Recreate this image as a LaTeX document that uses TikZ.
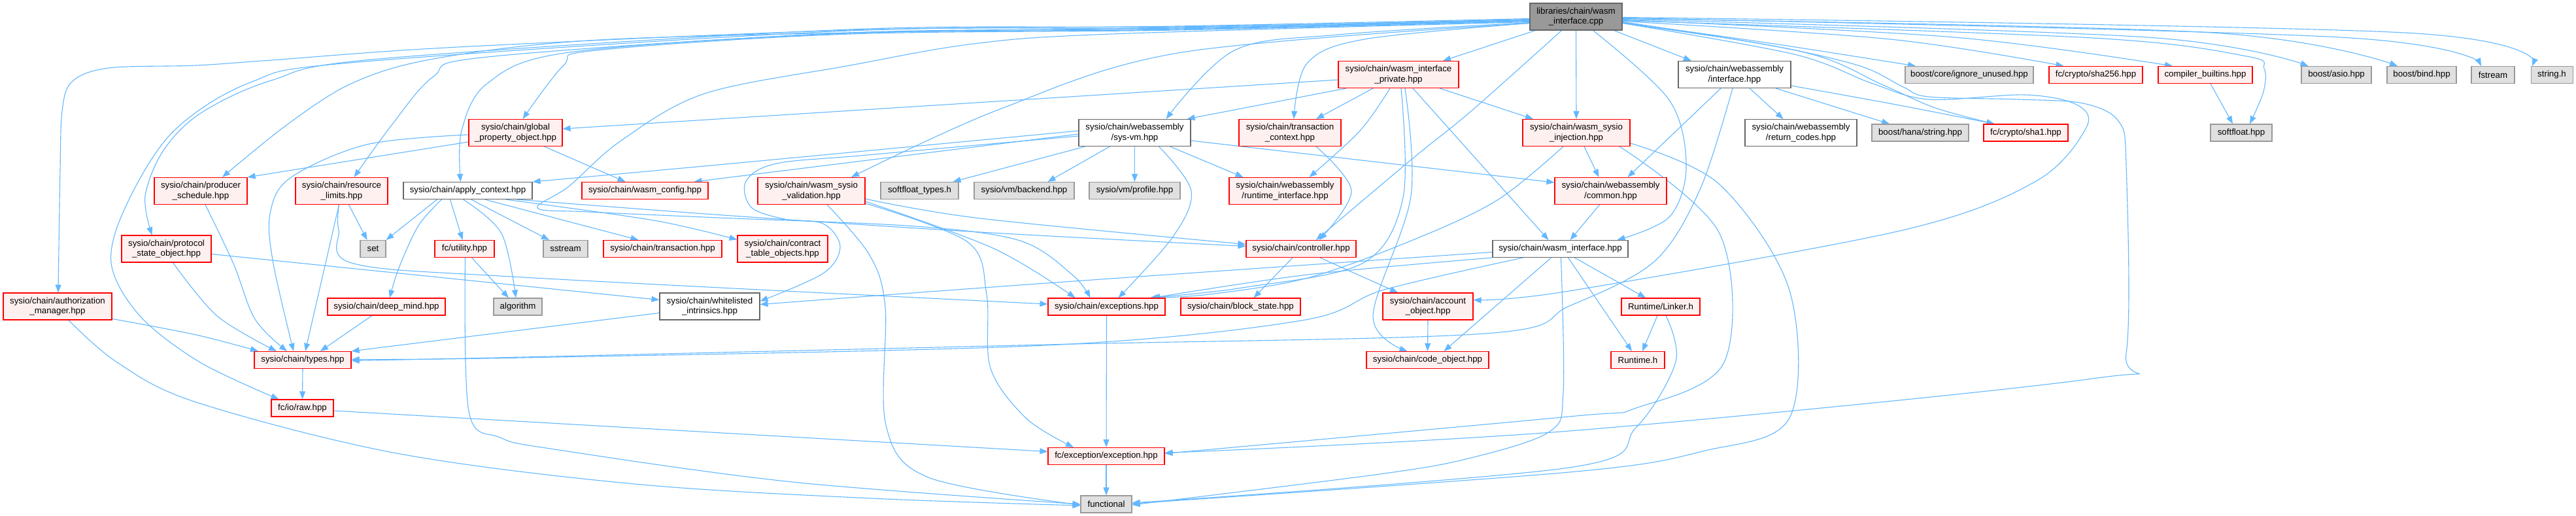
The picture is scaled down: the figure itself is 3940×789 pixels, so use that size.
\documentclass[tikz,border=0pt]{standalone}
\usepackage{fontspec}
\setmainfont{Liberation Sans}
\usetikzlibrary{arrows.meta}
\definecolor{edgecol}{HTML}{63B8FF}
\definecolor{redfill}{HTML}{FFF0F0}
\definecolor{grayfill}{HTML}{E0E0E0}
\definecolor{graybd}{HTML}{999999}
\definecolor{whitebd}{HTML}{666666}
\definecolor{rootfill}{HTML}{999999}
\newcommand\dxfont{\fontsize{13.3pt}{15.2pt}\selectfont}
\newcommand\edgeplot[1]{\draw[edge] plot[smooth,tension=0.55] coordinates {#1};}
\pgfdeclarelayer{bg}
\pgfsetlayers{bg,main}
\tikzset{
  base/.style={rectangle, inner sep=0pt, align=center, font=\dxfont, text=black, line width=1.1pt},
  rbox/.style={base, draw=red, fill=redfill},
  gbox/.style={base, draw=graybd, fill=grayfill},
  wbox/.style={base, draw=whitebd, fill=white},
  rootbox/.style={base, draw=whitebd, fill=rootfill},
  one/.style={minimum height=26pt},
  two/.style={minimum height=41pt},
  edge/.style={draw=edgecol, line width=1.1pt, line join=round, -{Triangle[length=12pt,width=9pt]}},
}
\begin{document}
\begin{tikzpicture}[x=1pt,y=-1pt]
\useasboundingbox (0,0) rectangle (3940,789);
% rank 0
\node[rootbox,two,minimum width=141pt] (root) at (2410.5,25.5) {libraries/chain/wasm\\\_interface.cpp};
% rank 1
\node[rbox,two,minimum width=184pt] (wip) at (2139,114) {sysio/chain/wasm\_interface\\\_private.hpp};
\node[wbox,two,minimum width=172pt] (wai) at (2653,114) {sysio/chain/webassembly\\/interface.hpp};
\node[gbox,one,minimum width=196pt] (ign) at (3012,114.5) {boost/core/ignore\_unused.hpp};
\node[rbox,one,minimum width=143pt] (sha256) at (3205.5,114.5) {fc/crypto/sha256.hpp};
\node[rbox,one,minimum width=144pt] (cb) at (3373,114.5) {compiler\_builtins.hpp};
\node[gbox,one,minimum width=107pt] (asio) at (3573.5,114.5) {boost/asio.hpp};
\node[gbox,one,minimum width=106pt] (bind) at (3704,114.5) {boost/bind.hpp};
\node[gbox,one,minimum width=66pt] (fstream) at (3813,114.5) {fstream};
\node[gbox,one,minimum width=64pt] (stringh) at (3903,114.5) {string.h};
% rank 2
\node[rbox,two,minimum width=143pt] (gpo) at (788.5,203) {sysio/chain/global\\\_property\_object.hpp};
\node[wbox,two,minimum width=171pt] (sysvm) at (1735.5,203) {sysio/chain/webassembly\\/sys-vm.hpp};
\node[rbox,two,minimum width=156pt] (tctx) at (1973,203) {sysio/chain/transaction\\\_context.hpp};
\node[rbox,two,minimum width=164pt] (inj) at (2411,203) {sysio/chain/wasm\_sysio\\\_injection.hpp};
\node[wbox,two,minimum width=171pt] (rc) at (2754.5,203) {sysio/chain/webassembly\\/return\_codes.hpp};
\node[gbox,one,minimum width=148pt] (hana) at (2937,203) {boost/hana/string.hpp};
\node[rbox,one,minimum width=129pt] (sha1) at (3098.5,203) {fc/crypto/sha1.hpp};
\node[gbox,one,minimum width=94pt] (softfloat) at (3428,203) {softfloat.hpp};
% rank 3
\node[rbox,two,minimum width=142pt] (ps) at (307,292) {sysio/chain/producer\\\_schedule.hpp};
\node[rbox,two,minimum width=141pt] (rl) at (522.5,292) {sysio/chain/resource\\\_limits.hpp};
\node[wbox,one,minimum width=197pt] (ac) at (715.5,291.5) {sysio/chain/apply\_context.hpp};
\node[rbox,one,minimum width=193pt] (wcfg) at (986.5,291.5) {sysio/chain/wasm\_config.hpp};
\node[rbox,two,minimum width=164pt] (val) at (1241,292) {sysio/chain/wasm\_sysio\\\_validation.hpp};
\node[gbox,one,minimum width=119pt] (sft) at (1406.5,291.5) {softfloat\_types.h};
\node[gbox,one,minimum width=153pt] (backend) at (1566.5,291.5) {sysio/vm/backend.hpp};
\node[gbox,one,minimum width=139pt] (profile) at (1735.5,291.5) {sysio/vm/profile.hpp};
\node[rbox,two,minimum width=171pt] (rti) at (1965.5,292) {sysio/chain/webassembly\\/runtime\_interface.hpp};
\node[rbox,two,minimum width=171pt] (common) at (2463.5,292) {sysio/chain/webassembly\\/common.hpp};
% rank 4
\node[rbox,two,minimum width=137pt] (pso) at (254.5,380.5) {sysio/chain/protocol\\\_state\_object.hpp};
\node[gbox,one,minimum width=39pt] (set) at (570.5,380.5) {set};
\node[rbox,one,minimum width=91pt] (util) at (710.5,380.5) {fc/utility.hpp};
\node[gbox,one,minimum width=68pt] (sstream) at (865,380.5) {sstream};
\node[rbox,one,minimum width=181pt] (trx) at (1013.5,380.5) {sysio/chain/transaction.hpp};
\node[rbox,two,minimum width=138pt] (cto) at (1197,380.5) {sysio/chain/contract\\\_table\_objects.hpp};
\node[rbox,one,minimum width=168pt] (ctrl) at (1990,380.5) {sysio/chain/controller.hpp};
\node[wbox,one,minimum width=207pt] (wi) at (2386.5,380.5) {sysio/chain/wasm\_interface.hpp};
% rank 5
\node[rbox,two,minimum width=166pt] (am) at (88,468.5) {sysio/chain/authorization\\\_manager.hpp};
\node[rbox,one,minimum width=180pt] (dm) at (591,469) {sysio/chain/deep\_mind.hpp};
\node[gbox,one,minimum width=74pt] (alg) at (792,469) {algorithm};
\node[wbox,two,minimum width=153pt] (wl) at (1085.5,468.5) {sysio/chain/whitelisted\\\_intrinsics.hpp};
\node[rbox,one,minimum width=179pt] (exc) at (1692.5,469) {sysio/chain/exceptions.hpp};
\node[rbox,one,minimum width=183pt] (bs) at (1897.5,469) {sysio/chain/block\_state.hpp};
\node[rbox,two,minimum width=138pt] (ao) at (2184,468.5) {sysio/chain/account\\\_object.hpp};
\node[rbox,one,minimum width=120pt] (linker) at (2540,469) {Runtime/Linker.h};
% rank 6+
\node[rbox,one,minimum width=148pt] (types) at (463,550.5) {sysio/chain/types.hpp};
\node[rbox,one,minimum width=187pt] (co) at (2183.5,550.5) {sysio/chain/code\_object.hpp};
\node[rbox,one,minimum width=82pt] (rt) at (2505,550.5) {Runtime.h};
\node[rbox,one,minimum width=95pt] (raw) at (462.5,624) {fc/io/raw.hpp};
\node[rbox,one,minimum width=178pt] (exh) at (1692,697.5) {fc/exception/exception.hpp};
\node[gbox,one,minimum width=78pt] (func) at (1692,771) {functional};

\begin{pgfonlayer}{bg}
\fill[white] (0,0) rectangle (3940,789);
% root, leftwards
\edgeplot{([yshift=-3pt]root.west) (1800,40) (1300,46) (700,72) (415,92) (300,100) (166,104) (110,125) (95,170) (92,260) (90,380) ([xshift=1pt]am.north)}
\edgeplot{([yshift=-4pt]root.west) (1800,42) (1300,50) (900,62) (663,90) (539,127) (440,190) ([xshift=33pt]ps.north)}
\edgeplot{([yshift=-5pt]root.west) (1800,41) (1300,45) (580,90) (415,123) (307,173) (250,230) (222,300) ([xshift=-22pt]pso.north)}
\edgeplot{([yshift=-5pt]root.west) (1800,43) (1300,47) (547,95) (383,126) (265,201) (194,312) (170,402) (214,483) (306,554) ([xshift=-36pt]raw.north)}
\edgeplot{([yshift=-6pt]root.west) (1800,44) (1300,50) (746,87) (663,117) (600,190) ([xshift=19pt]rl.north)}
\edgeplot{([yshift=-6pt]root.west) (1800,45) (1300,51) (871,80) (746,127) (706,200) ([xshift=-11pt]ac.north)}
\edgeplot{([yshift=-7pt]root.west) (1800,46) (1300,52) (912,77) (862,100) ([xshift=11pt]gpo.north)}
\edgeplot{([yshift=-8pt]root.west) (1700,52) (1489,67) (1300,100) (1078,143) (950,215) (870,285) (822,318) (900,324) (1100,333) (1400,346) (1560,368) (1640,420) ([xshift=-25pt]exc.north)}
\edgeplot{([yshift=-10pt]root.west) (1808,80) (1529,167) ([xshift=61pt]val.north)}
\edgeplot{([yshift=-9pt]root.west) (2047,53) (1888,77) ([xshift=48pt]sysvm.north)}
\edgeplot{([yshift=-10pt]root.west) (2087,60) (1999,97) ([xshift=6pt]tctx.north)}
\draw[edge] ([xshift=-62pt]root.south) -- ([xshift=68pt]wip.north);
\draw[edge] (root.south) -- (inj.north);
\edgeplot{([xshift=-22pt]root.south) (2250,170) (2161,242) ([xshift=23pt]ctrl.north)}
\edgeplot{([xshift=26pt]root.south) (2553,153) (2579,255) (2553,332) ([xshift=87pt]wi.north)}
\draw[edge] ([xshift=58pt]root.south) -- ([xshift=-66pt]wai.north);
% root, rightwards
\edgeplot{([yshift=-9pt]root.east) (2700,65) ([xshift=-82pt]ign.north)}
\edgeplot{([yshift=-7pt]root.east) (2891,60) ([xshift=-49pt]sha256.north)}
\edgeplot{([yshift=-5pt]root.east) (2989,57) ([xshift=-50pt]cb.north)}
\edgeplot{([yshift=-4pt]root.east) (3284,57) ([xshift=-43pt]asio.north)}
\edgeplot{([yshift=-3pt]root.east) (3382,50) ([xshift=-37pt]bind.north)}
\edgeplot{([yshift=-2pt]root.east) (3579,57) ([xshift=-18pt]fstream.north)}
\edgeplot{([yshift=-1pt]root.east) (3677,50) ([xshift=-30pt]stringh.north)}
\edgeplot{([yshift=-6pt]root.east) (3200,58) (3436,86) (3463,105) (3462,140) ([xshift=13pt]softfloat.north)}
\edgeplot{([yshift=-8pt]root.east) (2760,80) (2880,130) (2960,165) ([xshift=-48pt]sha1.north)}
\edgeplot{([yshift=-10pt]root.east) (2744,83) (2862,127) (2950,152) (3097,145) (3176,160) (3191,195) (3114,277) (2910,352) (2400,445) ([yshift=10pt]ao.east)}
\edgeplot{([yshift=-10pt]root.east) (2695,67) (2842,100) (2911,133) (2950,148) (3088,152) (3186,158) (3240,185) (3252,252) (3252,540) (3200,579) (2400,659) ([yshift=5pt]exh.east)}
% wasm_interface_private
\draw[edge] ([yshift=-8pt]wip.west) -- ([yshift=6pt]gpo.east);
\draw[edge] ([xshift=-80pt]wip.south) -- ([xshift=80pt]sysvm.north);
\draw[edge] ([xshift=-39pt]wip.south) -- ([xshift=40pt]tctx.north);
\edgeplot{([xshift=-13pt]wip.south) (2080,200) ([xshift=37pt]rti.north)}
\edgeplot{([xshift=4pt]wip.south) (2146,302) (2085,402) (1900,440) ([xshift=66pt]exc.north)}
\edgeplot{([xshift=10pt]wip.south) (2158,300) (2100,483) ([xshift=-31pt]co.north)}
\draw[edge] ([xshift=22pt]wip.south) -- ([xshift=-18pt]wi.north);
\draw[edge] ([xshift=63pt]wip.south) -- ([xshift=-66pt]inj.north);
% webassembly/interface
\draw[edge] ([xshift=-21pt]wai.south) -- ([xshift=26pt]common.north);
\edgeplot{([xshift=-3pt]wai.south) (2600,290) (2530,400) (2400,468) (2272,510) (1600,527) (800,546) ([yshift=-1pt]types.east)}
\draw[edge] ([xshift=23pt]wai.south) -- ([xshift=-27pt]rc.north);
\draw[edge] ([xshift=63pt]wai.south) -- ([xshift=-47pt]hana.north);
\edgeplot{([yshift=-17pt]wai.east) (2900,160) ([xshift=-48pt]sha1.north)}
% injection
\draw[edge] ([xshift=12pt]inj.south) -- ([xshift=-18pt]common.north);
\edgeplot{([xshift=-20pt]inj.south) (2290,306) (2161,367) (2000,425) (1850,450) ([xshift=68pt]exc.north)}
\edgeplot{([xshift=66pt]inj.south) (2630,357) (2637,554) (2502,624) (2400,637) ([yshift=4pt]exh.east)}
\edgeplot{([yshift=-16pt]inj.east) (2630,282) (2737,444) (2737,639) (2604,690) (2400,722) ([yshift=1pt]func.east)}
% sys-vm
\edgeplot{([yshift=3pt]sysvm.west) (1120,250) (ac.north east)}
\draw[edge] ([yshift=-2pt]sysvm.west) -- ([xshift=75pt]wcfg.north);
\edgeplot{([yshift=-5pt]sysvm.west) (1327,237) (1188,250) (1141,277) (1149,317) (1200,335) (1259,342) (1285,377) (1259,418) ([yshift=8pt]wl.east)}
\draw[edge] ([xshift=-76pt]sysvm.south) -- ([xshift=51pt]sft.north);
\draw[edge] ([xshift=-38pt]sysvm.south) -- ([xshift=36pt]backend.north);
\draw[edge] (sysvm.south) -- (profile.north);
\draw[edge] ([xshift=54pt]sysvm.south) -- ([xshift=-64pt]rti.north);
\edgeplot{([xshift=37pt]sysvm.south) (1822,292) (1794,362) ([xshift=18pt]exc.north)}
\draw[edge] ([yshift=-12pt]sysvm.east) -- ([yshift=13pt]common.west);
% global_property_object
\draw[edge] ([yshift=-14pt]gpo.west) -- (ps.north east);
\edgeplot{([yshift=-3pt]gpo.west) (561,221) (444,272) (413,327) (418,403) ([xshift=-14pt]types.north)}
\draw[edge] ([xshift=44pt]gpo.south) -- ([xshift=-30pt]wcfg.north);
% left group
\edgeplot{([xshift=7pt]ps.south) (357,403) (390,488) ([xshift=-24pt]types.north)}
\draw[edge] ([xshift=-4pt]rl.south) -- ([xshift=4pt]types.north);
\draw[edge] ([xshift=11pt]rl.south) -- ([xshift=-9pt]set.north);
\edgeplot{([xshift=-4pt]rl.south) (518,352) (541,403) (800,424) ([yshift=4pt]exc.west)}
\edgeplot{([xshift=10pt]pso.south) (332,483) ([xshift=-40pt]types.north)}
\draw[edge] ([yshift=-8pt]pso.east) -- ([yshift=10pt]wl.west);
\edgeplot{([yshift=-19pt]am.east) (300,512) ([xshift=-68pt]types.north)}
\edgeplot{([xshift=17pt]am.south) (179,554) (300,615) (606,693) (970,740) (1333,762) ([yshift=-2pt]func.west)}
\draw[edge] ([xshift=-22pt]dm.south) -- ([xshift=27pt]types.north);
% apply_context
\draw[edge] ([xshift=-47pt]ac.south) -- (set.north east);
\edgeplot{([xshift=-40pt]ac.south) (640,345) (610,410) ([xshift=5pt]dm.north)}
\draw[edge] ([xshift=-27pt]ac.south) -- ([xshift=-3pt]util.north);
\edgeplot{([xshift=-7pt]ac.south) (767,357) ([xshift=-3pt]alg.north)}
\draw[edge] ([xshift=5pt]ac.south) -- ([xshift=-25pt]sstream.north);
\draw[edge] ([xshift=26pt]ac.south) -- ([xshift=-37pt]trx.north);
\edgeplot{([xshift=58pt]ac.south) (1000,337) ([yshift=14pt]cto.west)}
\edgeplot{([xshift=75pt]ac.south) (1120,330) (1500,355) ([yshift=4pt]ctrl.west)}
% validation
\edgeplot{([yshift=-12pt]val.east) (1500,334) ([yshift=7pt]ctrl.west)}
\edgeplot{([yshift=-16pt]val.east) (1520,380) ([xshift=-48pt]exc.north)}
\edgeplot{([xshift=24pt]val.south) (1330,390) (1354,470) (1355,650) (1420,730) ([yshift=-1pt]func.west)}
\edgeplot{([yshift=-19pt]val.east) (1480,370) (1509,450) (1515,563) (1570,640) ([xshift=-50pt]exh.north)}
% utility
\draw[edge] ([xshift=11pt]util.south) -- ([xshift=-14pt]alg.north);
\edgeplot{([xshift=1pt]util.south) (717,629) (765,669) (848,687) (1212,737) (func.west)}
% others
\draw[edge] ([yshift=-10pt]wl.west) -- (types.north east);
\draw[edge] ([yshift=-4pt]raw.east) -- ([yshift=7pt]exh.west);
\draw[edge] (types.south) -- (raw.north);
\draw[edge] (exc.south) -- (exh.north);
\draw[edge] (exh.south) -- (func.north);
\draw[edge] ([xshift=-13pt]ctrl.south) -- ([xshift=20pt]bs.north);
\draw[edge] ([xshift=29pt]ctrl.south) -- ([xshift=-46pt]ao.north);
\draw[edge] (ao.south) -- (co.north);
\draw[edge] ([xshift=-14pt]wi.south) -- ([xshift=25pt]co.north);
\draw[edge] ([xshift=22pt]wi.south) -- ([xshift=-23pt]linker.north);
\draw[edge] ([xshift=12pt]wi.south) -- ([xshift=-9pt]rt.north);
\edgeplot{([xshift=1pt]wi.south) (2391,600) (2370,660) (2250,700) (2110,725) ([yshift=-1pt]func.east)}
\edgeplot{(wi.south west) (2000,420) ([xshift=70pt]exc.north)}
\edgeplot{([yshift=-5pt]wi.west) (1600,433) ([yshift=3pt]wl.east)}
\edgeplot{([xshift=-57pt]wi.south) (2117,443) (1991,490) (1600,528) (800,547) ([yshift=1pt]types.east)}
\draw[edge] ([xshift=-5pt]linker.south) -- ([xshift=7pt]rt.north);
\edgeplot{([xshift=8pt]linker.south) (2563,553) (2502,654) (2400,715) ([yshift=2pt]func.east)}
\draw[edge] ([xshift=-17pt]common.south) -- ([xshift=15pt]wi.north);
\edgeplot{([xshift=40pt]tctx.south) (2067,292) ([xshift=28pt]ctrl.north)}
\draw[edge] ([xshift=8pt]cb.south) -- ([xshift=-13pt]softfloat.north);
\end{pgfonlayer}
\end{tikzpicture}
\end{document}
